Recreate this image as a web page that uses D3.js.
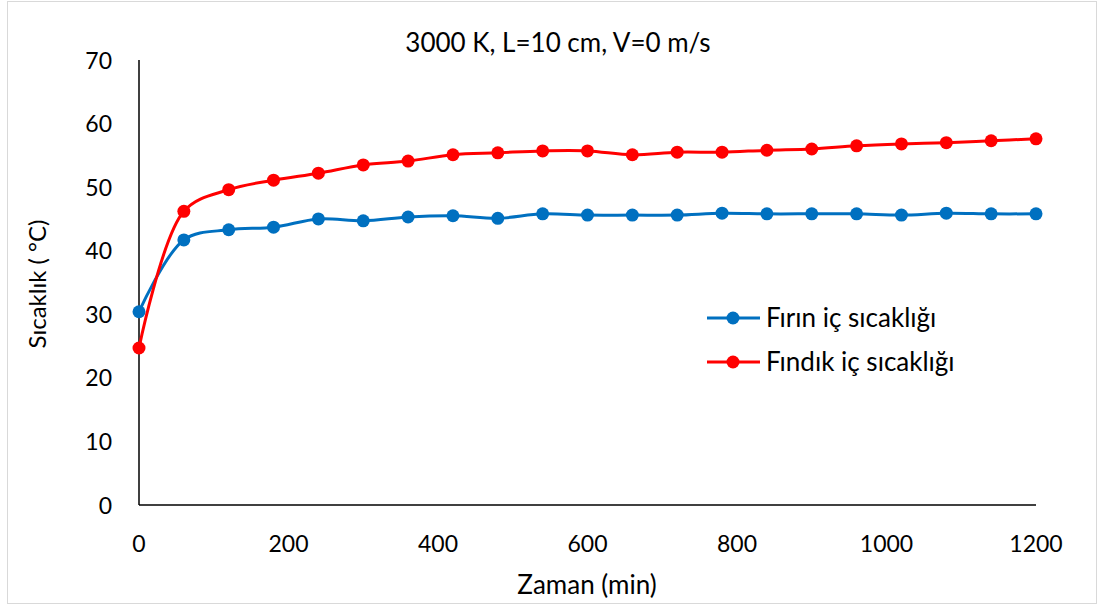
<!DOCTYPE html>
<html>
<head>
<meta charset="utf-8">
<script src="https://cdn.jsdelivr.net/npm/d3@7"></script>
<style>
  body { margin: 0; background: #fff; }
  text { font-family: Lato, "Open Sans", sans-serif; fill: #000; }
</style>
</head>
<body>
<div id="chart"></div>
<script>
const zaman = [0, 60, 120, 180, 240, 300, 360, 420, 480, 540, 600, 660, 720, 780, 840, 900, 960, 1020, 1080, 1140, 1200];
const firin = [30.4, 41.7, 43.3, 43.7, 45.0, 44.7, 45.3, 45.5, 45.1, 45.8, 45.6, 45.6, 45.6, 45.9, 45.8, 45.8, 45.8, 45.6, 45.9, 45.8, 45.8];
const findik = [24.7, 46.2, 49.6, 51.1, 52.2, 53.5, 54.1, 55.1, 55.4, 55.7, 55.7, 55.1, 55.5, 55.5, 55.8, 56.0, 56.5, 56.8, 57.0, 57.3, 57.6];
const seriesNames = ["Fırın iç sıcaklığı", "Fındık iç sıcaklığı"];
const colors = ["#0070C0", "#FF0000"];
const xTicks = [0, 200, 400, 600, 800, 1000, 1200];
const yTicks = [0, 10, 20, 30, 40, 50, 60, 70];

const w = 1099, h = 607;
const svg = d3.select("#chart").append("svg").attr("width", w).attr("height", h);

// outer frame
svg.append("rect").attr("x", 7.5).attr("y", 1.5).attr("width", 1089).attr("height", 602)
  .attr("fill", "#fff").attr("stroke", "#d9d9d9").attr("stroke-width", 1);

const x = d3.scaleLinear().domain([0, 1200]).range([139, 1036]);
const y = d3.scaleLinear().domain([0, 70]).range([505, 60]);

// axes
svg.append("line").attr("x1", x(0)).attr("x2", x(1200)).attr("y1", y(0)).attr("y2", y(0))
  .attr("stroke", "#000").attr("stroke-width", 1.5);
svg.append("line").attr("x1", x(0)).attr("x2", x(0)).attr("y1", y(0)).attr("y2", y(70))
  .attr("stroke", "#000").attr("stroke-width", 1.5);

svg.selectAll(".xt").data(xTicks).enter().append("text")
  .attr("x", d => x(d)).attr("y", 552).attr("text-anchor", "middle")
  .attr("font-size", 23).text(d => d);

svg.selectAll(".yt").data(yTicks).enter().append("text")
  .attr("x", 112).attr("y", d => y(d) + 8.5).attr("text-anchor", "end")
  .attr("font-size", 23).text(d => d);

// titles
svg.append("text").attr("x", 558).attr("y", 52).attr("text-anchor", "middle")
  .attr("font-size", 26).text("3000 K, L=10 cm, V=0 m/s");
svg.append("text").attr("x", 587).attr("y", 594).attr("text-anchor", "middle")
  .attr("font-size", 26).text("Zaman (min)");
svg.append("text").attr("transform", "translate(46,284) rotate(-90)").attr("text-anchor", "middle")
  .attr("font-size", 24).text("Sıcaklık ( °C)");

const allSeries = [firin, findik];
const line = d3.line().x((d, i) => x(zaman[i])).y(d => y(d)).curve(d3.curveCatmullRom.alpha(0.5));

allSeries.forEach((vals, k) => {
  svg.append("path").datum(vals).attr("d", line)
    .attr("fill", "none").attr("stroke", colors[k]).attr("stroke-width", 3);
  svg.selectAll(".pt" + k).data(vals).enter().append("circle")
    .attr("cx", (d, i) => x(zaman[i])).attr("cy", d => y(d)).attr("r", 6.5)
    .attr("fill", colors[k]);
});

// legend
const legend = svg.append("g");
seriesNames.forEach((name, k) => {
  const ly = 318 + k * 44;
  legend.append("line").attr("x1", 707).attr("x2", 760).attr("y1", ly).attr("y2", ly)
    .attr("stroke", colors[k]).attr("stroke-width", 3);
  legend.append("circle").attr("cx", 733).attr("cy", ly).attr("r", 6.5).attr("fill", colors[k]);
  legend.append("text").attr("x", 766).attr("y", ly + 9).attr("font-size", 26).text(name);
});
</script>
</body>
</html>
